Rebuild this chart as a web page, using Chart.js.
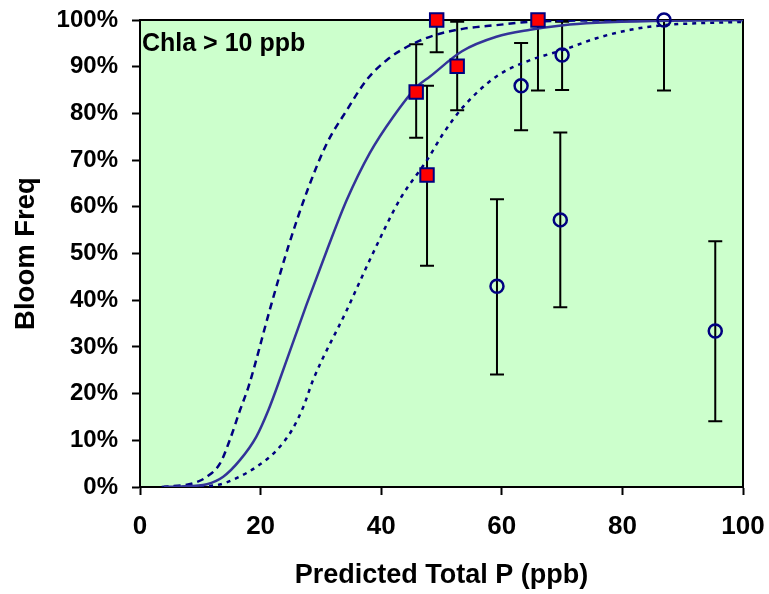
<!DOCTYPE html>
<html>
<head>
<meta charset="utf-8">
<script src="https://cdn.jsdelivr.net/npm/chart.js@4.4.0/dist/chart.umd.min.js"></script>
<style>
  html, body { margin: 0; padding: 0; background: #fff; }
  #wrap { width: 769px; height: 594px; }
</style>
</head>
<body>
<div id="wrap"><canvas id="chartBloom" width="769" height="594"></canvas></div>
<script>
// tick values on the x axis (ppb)
var xTicks = [0, 20, 40, 60, 80, 100];

// lakes with Chla > 10 ppb blooms (red squares)
var squareTP   = [49.2, 45.8, 47.6, 52.6, 66.0];
var squareFreq = [100, 84.6, 66.8, 90.1, 100];
var squareLo   = [93.1, 74.8, 47.4, 80.7, 84.9];
var squareHi   = [100, 94.8, 85.9, 99.6, 100];

// other lakes (open circles)
var circleTP   = [59.2, 63.2, 69.7, 70.0, 86.9, 95.4];
var circleFreq = [43.0, 85.9, 57.2, 92.5, 100, 33.4];
var circleLo   = [24.1, 76.4, 38.5, 85.0, 84.9, 14.1];
var circleHi   = [61.6, 95.1, 75.9, 99.6, 100, 52.6];

// fitted curve (solid) and its bounds (dashed)
var fitX = [4, 6.6, 11.1, 13.8, 16.6, 19.3, 21.3, 22.9, 27.6, 31.0, 34.3, 38.1, 42.0, 45.9, 48.1, 53.4, 59.1, 64.7, 70.2, 75.7, 85, 100];
var fitY = [0, 0.1, 0.6, 2.2, 5.8, 10.8, 16.5, 22.0, 39.0, 50.7, 61.5, 71.5, 79.3, 85.7, 87.9, 93.3, 96.4, 97.9, 98.9, 99.4, 99.8, 100];

var upperX = [3.6, 8.8, 11.1, 13.3, 14.9, 16.6, 18.0, 21.6, 24.6, 27.9, 31.0, 34.3, 37.6, 40.9, 44.8, 49.0, 53.5, 59.1, 64.7, 75, 100];
var upperY = [0, 0.8, 2.2, 5.1, 10.1, 16.5, 21.5, 38.3, 51.5, 64.0, 73.6, 80.7, 87.2, 91.4, 94.6, 96.8, 98.1, 98.9, 99.6, 99.9, 100];

var lowerX = [4, 8.3, 12.7, 16.0, 19.3, 22.7, 25.2, 27.1, 28.7, 34.3, 38.1, 43.2, 47.6, 50.3, 53.6, 59.1, 64.7, 70.2, 75.7, 81.3, 86.8, 92.3, 100];
var lowerY = [0, 0.1, 0.4, 1.9, 4.3, 7.9, 12.2, 17.2, 22.9, 37.9, 48.6, 61.8, 70.0, 75.7, 81.4, 87.9, 91.4, 93.6, 96.1, 97.9, 98.9, 99.3, 99.6];

function pts(xs, ys) {
  return xs.map(function (x, i) { return { x: x, y: ys[i] }; });
}

var fontFam = "Arial, 'Liberation Sans', sans-serif";

// plot area fill + top/right border + the label
var plotBox = {
  id: 'plotBox',
  beforeDraw: function (chart) {
    var a = chart.chartArea, c = chart.ctx;
    c.save();
    c.fillStyle = '#CCFFCC';
    c.fillRect(a.left, a.top, a.right - a.left, a.bottom - a.top);
    c.restore();
  },
  beforeDatasetsDraw: function (chart) {
    var a = chart.chartArea, c = chart.ctx;
    c.save();
    c.strokeStyle = '#000';
    c.lineWidth = 2;
    c.beginPath();
    c.moveTo(a.left, a.top);
    c.lineTo(a.right, a.top);
    c.lineTo(a.right, a.bottom);
    c.stroke();
    c.fillStyle = '#000';
    c.font = 'bold 25px ' + fontFam;
    c.textBaseline = 'alphabetic';
    c.fillText('Chla > 10 ppb', a.left + 2, a.top + 31);
    c.restore();
  }
};

// error bars, drawn under the markers
var errorBars = {
  id: 'errorBars',
  beforeDatasetsDraw: function (chart) {
    var xs = chart.scales.x, ys = chart.scales.y, c = chart.ctx;
    var sets = [[squareTP, squareLo, squareHi], [circleTP, circleLo, circleHi]];
    c.save();
    c.strokeStyle = '#000';
    c.lineWidth = 2;
    sets.forEach(function (s) {
      s[0].forEach(function (x, i) {
        var px = xs.getPixelForValue(x);
        var lo = ys.getPixelForValue(s[1][i]);
        var hi = ys.getPixelForValue(s[2][i]);
        c.beginPath();
        c.moveTo(px, lo); c.lineTo(px, hi);
        c.moveTo(px - 7, lo); c.lineTo(px + 7, lo);
        c.moveTo(px - 7, hi); c.lineTo(px + 7, hi);
        c.stroke();
      });
    });
    c.restore();
  }
};

var ctx = document.getElementById('chartBloom').getContext('2d');
var chart = new Chart(ctx, {
  type: 'scatter',
  data: {
    datasets: [{
      label: 'Chla > 10 ppb',
      data: pts(squareTP, squareFreq),
      pointStyle: 'rect',
      pointRadius: 9.5,
      backgroundColor: '#FF0000',
      borderColor: '#000080',
      borderWidth: 2,
      clip: false
    }, {
      label: 'Other',
      data: pts(circleTP, circleFreq),
      pointStyle: 'circle',
      pointRadius: 6.5,
      backgroundColor: 'rgba(0,0,0,0)',
      borderColor: '#000080',
      borderWidth: 2.5,
      clip: false
    }, {
      label: 'Fit',
      type: 'line',
      data: pts(fitX, fitY),
      borderColor: '#333399',
      borderWidth: 2.5,
      pointRadius: 0,
      cubicInterpolationMode: 'monotone',
      fill: false
    }, {
      label: 'Upper',
      type: 'line',
      data: pts(upperX, upperY),
      borderColor: '#000080',
      borderWidth: 2.5,
      borderDash: [7, 5],
      pointRadius: 0,
      cubicInterpolationMode: 'monotone',
      fill: false
    }, {
      label: 'Lower',
      type: 'line',
      data: pts(lowerX, lowerY),
      borderColor: '#000080',
      borderWidth: 2.5,
      borderDash: [4, 5],
      pointRadius: 0,
      cubicInterpolationMode: 'monotone',
      fill: false
    }]
  },
  plugins: [plotBox, errorBars],
  options: {
    responsive: false,
    animation: false,
    layout: { padding: { left: 0, right: 26, top: 20, bottom: 0 } },
    plugins: { legend: { display: false }, tooltip: { enabled: false } },
    scales: {
      x: {
        type: 'linear',
        min: 0, max: 100,
        afterFit: function (s) { s.height = 107; s.paddingLeft = 0; s.paddingRight = 0; },
        afterBuildTicks: function (s) { s.ticks = xTicks.map(function (v) { return { value: v }; }); },
        grid: { drawOnChartArea: false, drawTicks: true, tickLength: 8, tickColor: '#000', tickWidth: 2 },
        border: { display: true, color: '#000', width: 2 },
        ticks: { color: '#000', padding: 16, font: { family: fontFam, size: 26, weight: 'bold' } },
        title: { display: true, text: 'Predicted Total P (ppb)', color: '#000', padding: { top: 0, bottom: 2 },
                 font: { family: fontFam, size: 27, weight: 'bold' } }
      },
      y: {
        type: 'linear',
        min: 0, max: 100,
        afterFit: function (s) { s.width = 140; s.paddingTop = 0; s.paddingBottom = 0; },
        grid: { drawOnChartArea: false, drawTicks: true, tickLength: 8, tickColor: '#000', tickWidth: 2 },
        border: { display: true, color: '#000', width: 2 },
        ticks: { stepSize: 10, color: '#000', padding: 14,
                 font: { family: fontFam, size: 24, weight: 'bold' },
                 callback: function (v) { return v + '%'; } },
        title: { display: true, text: 'Bloom Freq', color: '#000', padding: { top: 10, bottom: 0 },
                 font: { family: fontFam, size: 27.5, weight: 'bold' } }
      }
    }
  }
});
</script>
</body>
</html>
